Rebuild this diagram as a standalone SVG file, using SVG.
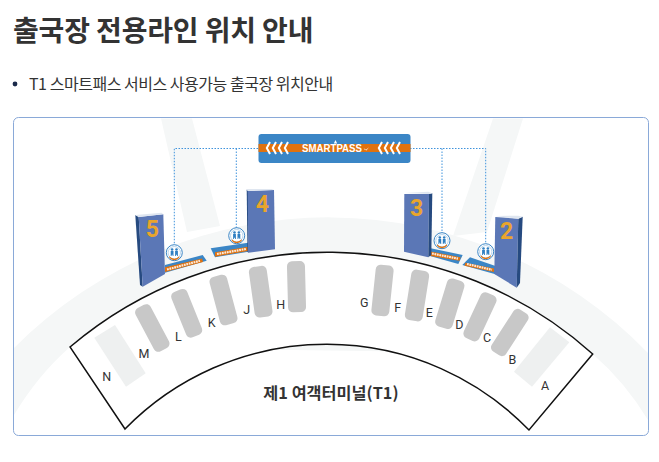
<svg xmlns="http://www.w3.org/2000/svg" width="659" height="462" viewBox="0 0 659 462">
<style>
.sans{font-family:"Noto Sans CJK KR","Noto Sans",sans-serif;fill:#333}
.gate{fill:#c8c8c8}
.off{fill:#eef0f0}
.ltr{font-family:"Roboto","Liberation Sans",sans-serif;font-size:12.500px;fill:#333;text-anchor:middle}
.num{font-family:"Roboto","Liberation Sans",sans-serif;font-weight:700;font-size:23px;fill:#e9a52c;text-anchor:middle}
.dot{fill:none;stroke:#3f93dc;stroke-width:1;stroke-dasharray:1.500 1.500}
.front{fill:#5b77b6}.side{fill:#264a80}.top{fill:#dfe6f0}
.strip{fill:#3b86c6}.band{fill:#e0720f}.mark{fill:none;stroke:#fff;stroke-width:2.200;stroke-dasharray:1.800 .7;stroke-opacity:.85}
.chev{fill:none;stroke:#fff;stroke-width:2}
</style>
<defs>
<g id="ico">
<circle r="8" fill="#fff" stroke="#3b86c6" stroke-width="1"/>
<circle r="6.200" fill="none" stroke="#9cc4e4" stroke-width=".7"/>
<path d="M-5 3.500a6.300 6.300 0 0 0 10 0v1.500a6.300 6.300 0 0 1-10 0z" fill="#e0720f"/>
<path d="M-3.600-1.800h2.800v5.200h-.7l-.7-1.800-.7 1.800h-.7zM.8-1.800h2.800v5.200h-.7l-.7-1.800-.7 1.800H.8z" fill="#2f7fc2"/>
<circle cx="-2.200" cy="-3.200" r="1.300" fill="#2f7fc2"/>
<circle cx="2.200" cy="-3.200" r="1.300" fill="#2f7fc2"/>
</g>
<g id="ch"><path class="chev" d="M4-6L.8 0 4 6M10-6L6.800 0 10 6M16-6L12.800 0 16 6M22-6L18.800 0 22 6"/></g>
</defs>

<text class="sans" x="13" y="41" font-size="28" font-weight="700" letter-spacing="-.15">출국장 전용라인 위치 안내</text>
<circle cx="15" cy="84" r="2.400" fill="#1a2a4a"/>
<text class="sans" x="29" y="90" font-size="16" letter-spacing="-.47">T1 스마트패스 서비스 사용가능 출국장 위치안내</text>

<g id="card">
<rect x="13.500" y="117.500" width="635" height="318" rx="5" fill="#fff"/>
<path fill="#f5f7f7" d="M14 348A444 444 0 0 1 648 353V420Q625 382 592.700 354L70 347Q38 375 14 415Z"/>
<path fill="#f5f7f7" d="M161 118.500H192L220 226 187 232ZM493 118.500H523L487 232 453 236Z"/>
<rect x="13.500" y="117.500" width="635" height="318" rx="5" fill="none" stroke="#8aa9d8" stroke-width="1"/>
</g>

<g id="terminal">
<path d="M70 347A397 397 0 0 1 592.700 354L529 430A282 282 0 0 0 125 429Z" fill="#fff" stroke="#111" stroke-width="1.500" stroke-linejoin="miter"/>
<polygon class="off" points="94.300,337.700 115,325 145.700,373.300 126,386.700"/>
<polygon class="off" points="550,327.300 569.300,342.300 532,386.700 514,371.700"/>
<rect class="gate" x="-9" y="-25.500" width="18" height="51" rx="5" transform="translate(296.500 286.700) rotate(-1.500)"/>
<rect class="gate" x="-9" y="-25.500" width="18" height="51" rx="5" transform="translate(260.700 291.700) rotate(-8)"/>
<rect class="gate" x="-9" y="-25" width="18" height="50" rx="5" transform="translate(223.500 300) rotate(-15)"/>
<rect class="gate" x="-8.500" y="-24.500" width="17" height="49" rx="5" transform="translate(186.700 313.300) rotate(-22)"/>
<rect class="gate" x="-8.500" y="-24.500" width="17" height="49" rx="5" transform="translate(152.300 328) rotate(-28)"/>
<rect class="gate" x="-9" y="-25.500" width="18" height="51" rx="5" transform="translate(382.500 290.500) rotate(6)"/>
<rect class="gate" x="-9" y="-25.500" width="18" height="51" rx="5" transform="translate(417 295.500) rotate(9)"/>
<rect class="gate" x="-9" y="-25" width="18" height="50" rx="5" transform="translate(449.800 303.700) rotate(17)"/>
<rect class="gate" x="-8.500" y="-25" width="17" height="50" rx="5" transform="translate(480 316.800) rotate(25)"/>
<rect class="gate" x="-8.500" y="-25" width="17" height="50" rx="5" transform="translate(509.800 332.500) rotate(33)"/>
<text class="ltr" x="106.700" y="380.500">N</text>
<text class="ltr" x="144" y="357.800">M</text>
<text class="ltr" x="178.300" y="340.500">L</text>
<text class="ltr" x="211.700" y="326.800">K</text>
<text class="ltr" x="246.700" y="313.800">J</text>
<text class="ltr" x="280.700" y="308.500">H</text>
<text class="ltr" x="364.300" y="306.500">G</text>
<text class="ltr" x="397.700" y="311.800">F</text>
<text class="ltr" x="429.300" y="316.800">E</text>
<text class="ltr" x="459.300" y="328.500">D</text>
<text class="ltr" x="487" y="342.200">C</text>
<text class="ltr" x="512.300" y="363.500">B</text>
<text class="ltr" x="545" y="389.500">A</text>
<text class="sans" x="331" y="399" font-size="16.300" font-weight="700" text-anchor="middle">제1 여객터미널(T1)</text>
</g>

<g id="connectors">
<path class="dot" d="M258 148.500H174.300V245M236.300 148.500V228M410 148.500H485.700V245M442 148.500V233"/>
</g>

<g id="banner">
<rect x="258.500" y="134" width="152" height="29" rx="3" fill="#3b86c6"/>
<rect x="258.500" y="144" width="152" height="8" fill="#e0720f"/>
<use href="#ch" x="266" y="148"/>
<use href="#ch" x="378" y="148"/>
<text x="302" y="152.300" font-family="'Liberation Sans',sans-serif" font-size="11" font-weight="700" fill="#fff" textLength="60" lengthAdjust="spacingAndGlyphs">SMARTPASS</text>
<path d="M335.500 140l1.700 3.500h-3.400zM364 148.500l2 1.200 3-2.500-2.600 3.200-2.600-1.400z" fill="#fff"/>
</g>

<g id="gate5">
<polygon class="strip" points="165,265 202.700,255 206.700,260.700 165,272.700"/>
<polygon class="band" points="165,267.300 202,258.500 203,262 165,272"/>
<path class="mark" d="M167 269.500L200 260.800"/>
<polygon class="side" points="135.300,215 138.700,217 142.700,286.700 140,285"/>
<polygon class="front" points="138.700,217 163.300,214.300 165,274 142.700,286.700"/>
<polygon class="top" points="135.300,215 161.700,212.700 163.300,214.300 138.700,217"/>
<text class="num" x="152.300" y="237">5</text>
<use href="#ico" x="174.300" y="252.700"/>
</g>
<g id="gate4">
<polygon class="strip" points="210.700,248.300 248,242.700 248.300,251.700 215,257.300"/>
<polygon class="band" points="215,252.300 248,246.700 248,251 215,256.700"/>
<path class="mark" d="M217 254L246 249"/>
<polygon class="side" points="246.700,189.500 248,191 248.700,252.700 247.500,252"/>
<polygon class="front" points="247.700,191 274,190 275,249.300 248.300,252.700"/>
<polygon class="top" points="246.700,189 271.700,189 274,190 247.700,191"/>
<text class="num" x="262.300" y="212">4</text>
<use href="#ico" x="236.700" y="235.700"/>
</g>
<g id="gate3">
<polygon class="strip" points="430.700,248.300 462.700,255 458.300,264 430,256"/>
<polygon class="band" points="430.700,251.500 460.500,257.300 459.500,260.700 430.500,256"/>
<path class="mark" d="M432 253.500L458 258.700"/>
<polygon class="front" points="404.300,194 429,194 428.300,257.300 404,251.700"/>
<polygon class="side" points="429,194 432.300,193.300 431.300,255 428.300,257.300"/>
<polygon class="top" points="404.300,193 428.300,191.700 432.300,193.300 429,194"/>
<text class="num" x="416.700" y="216">3</text>
<use href="#ico" x="442" y="240.700"/>
</g>
<g id="gate2">
<polygon class="strip" points="470,257.300 495.500,266 495.500,274.300 462.300,265"/>
<polygon class="band" points="465.500,262.700 494,268.500 494,272 464.500,265.700"/>
<path class="mark" d="M467 264L492 269.800"/>
<polygon class="front" points="495.300,217 518.300,218.700 516.700,287.700 494.300,274"/>
<polygon class="side" points="518.300,218.700 522.700,216.700 520,283 516.700,287.700"/>
<polygon class="top" points="495.300,216 518.300,215.700 522.700,216.700 518.300,218.700"/>
<text class="num" x="506.700" y="239">2</text>
<use href="#ico" x="485.700" y="251.700"/>
</g>
</svg>
